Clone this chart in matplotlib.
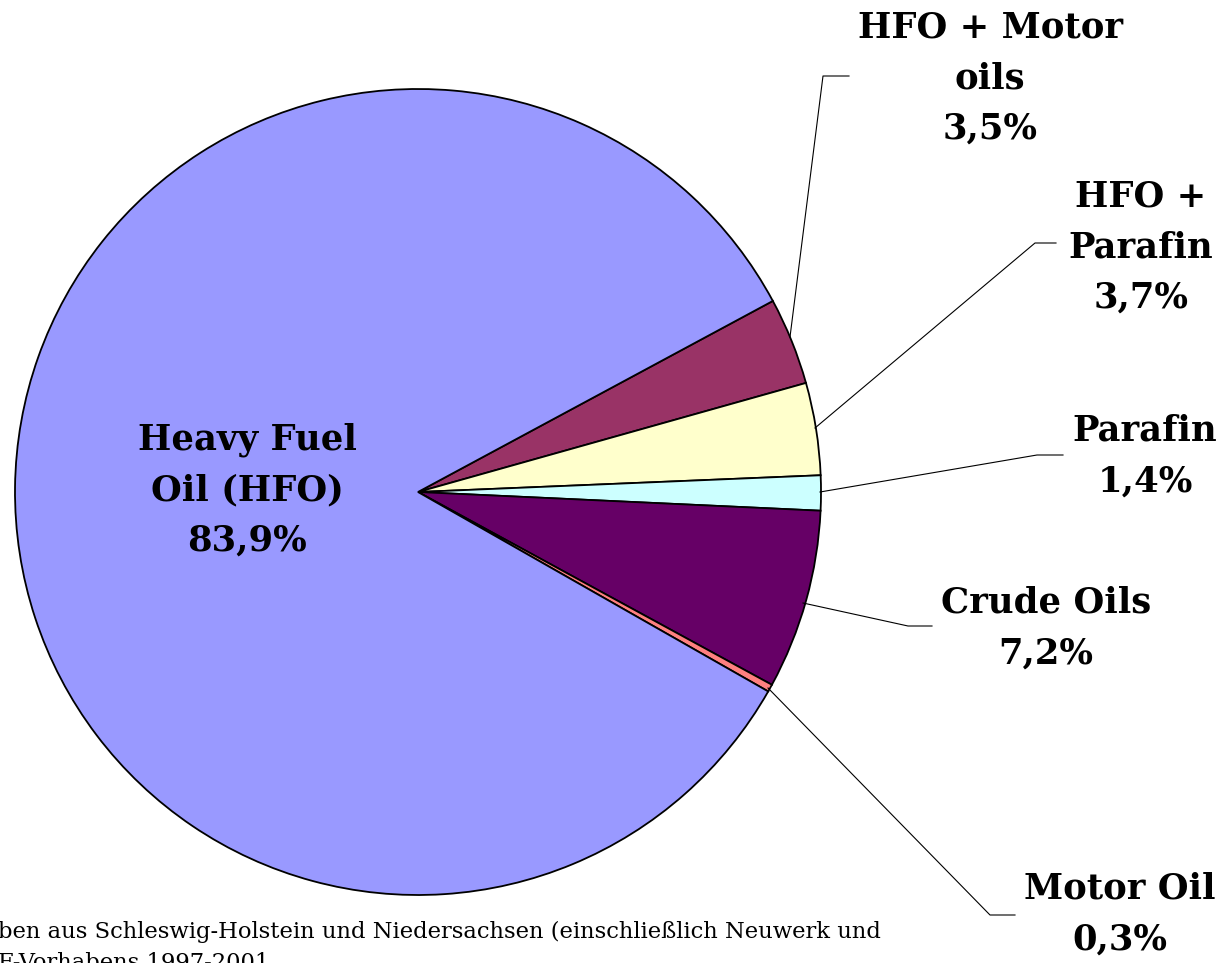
import matplotlib
matplotlib.use('Agg')
import matplotlib.pyplot as plt

# data: share of oil types (%)
categories = ['HFO + Motor\noils', 'HFO +\nParafin', 'Parafin', 'Crude Oils', 'Motor Oil', 'Heavy Fuel\nOil (HFO)']
shares = [3.5, 3.7, 1.4, 7.2, 0.3, 83.9]
pct_labels = ['3,5%', '3,7%', '1,4%', '7,2%', '0,3%', '83,9%']
colors = ['#993366', '#FFFFCC', '#CCFFFF', '#660066', '#FF8080', '#9999FF']

W, H = 1224, 963
fig = plt.figure(figsize=(W / 100, H / 100), dpi=100)
ax = fig.add_axes([0, 0, 1, 1])

cx, cy, r = 418, H - 492, 403
wedges, _ = ax.pie(shares, colors=colors, startangle=28.3, counterclock=False,
                   center=(cx, cy), radius=r, frame=True,
                   wedgeprops=dict(edgecolor='black', linewidth=1.3))
ax.set_xlim(0, W)
ax.set_ylim(0, H)
ax.axis('off')

font = dict(family='DejaVu Serif', weight='bold', fontsize=25.5)

# label positions (image px) and leader lines
label_pos = [(990, 78), (1141, 247), (1145, 456), (1046, 628), (1120, 914), (247, 490)]
leaders = [
    [(790, 337), (823, 76), (849, 76)],
    [(815, 428), (1035, 243), (1056, 243)],
    [(820, 492), (1037, 455), (1063, 455)],
    [(803, 603), (908, 626), (932, 626)],
    [(768, 688), (990, 915), (1015, 915)],
    None,
]

for name, pct, (lx, ly), pts in zip(categories, pct_labels, label_pos, leaders):
    ax.text(lx, H - ly, name + '\n' + pct, ha='center', va='center',
            linespacing=1.6, **font)
    if pts:
        xs = [p[0] for p in pts]
        ys = [H - p[1] for p in pts]
        ax.plot(xs, ys, color='black', linewidth=0.8)

ax.text(-2, H - 932, 'ben aus Schleswig-Holstein und Niedersachsen (einschließlich Neuwerk und',
        family='DejaVu Serif', fontsize=16.3, ha='left', va='center')
ax.text(-2, H - 963, 'F-Vorhabens 1997-2001',
        family='DejaVu Serif', fontsize=16.3, ha='left', va='center')

fig.savefig('out.png', dpi=100)
